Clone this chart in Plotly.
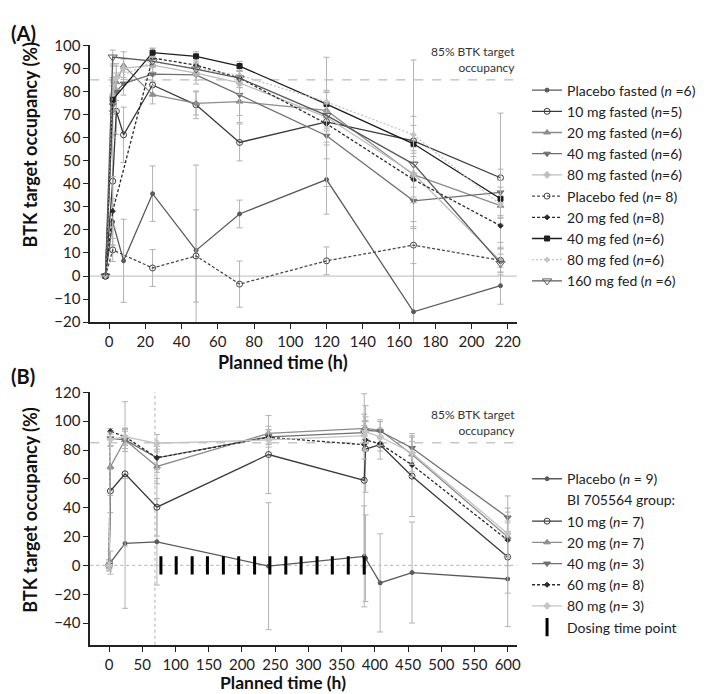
import plotly.graph_objects as go

# ---------------- Panel A data ----------------
tA = [-2, 2, 4, 8, 24, 48, 72, 120, 168, 216]
a_placebo_fasted = [0, 23.5, None, 6.6, 35.7, 11.1, 26.9, 41.8, -15.5, -4.2]
a_10_fasted = [0, 41.1, 71.4, 61.2, 82.8, 74.2, 57.9, 66.8, 58.6, 42.6]
a_20_fasted = [0, 72, 84, 91.2, 78.6, 74.8, 75.6, 71.8, 43.9, 30.5]
a_40_fasted = [0, 74, 80, 83.4, 87.5, 87.2, 78.5, 60.8, 32.6, 36.3]
a_80_fasted = [0, 78, 86, 90, 91.4, 87.9, 83.7, 68.9, 44.3, 6.5]
a_placebo_fed = [0, 11.3, None, None, 3.5, 8.7, -3.5, 6.6, 13.4, 6.8]
a_20_fed = [0, 28.1, None, None, 94.5, 91.4, 85.8, 66.0, 41.8, 21.8]
a_40_fed = [0, 76.4, None, None, 96.8, 95.2, 91.0, 74.5, 57.3, 33.5]
a_80_fed = [0, 85, None, None, 92.8, 90.0, 87.0, 75.5, 61.2, 31.0]
a_160_fed = [0, 94.9, None, None, 93.1, 89.7, 85.8, 69.6, 48.5, 5.5]

a_placebo_fasted_sd = [0, 10, 0, 18, 12, 37, 6, 15, 60, 8]
a_10_fasted_sd = [0, 20, 10, 12, 4, 6, 8, 28, 35, 28]
a_20_fasted_sd = [0, 12, 8, 6, 4, 5, 6, 8, 12, 8]
a_40_fasted_sd = [0, 12, 8, 5, 3, 4, 12, 10, 12, 10]
a_80_fasted_sd = [0, 8, 5, 4, 3, 3, 5, 6, 10, 6]
a_placebo_fed_sd = [0, 5, 0, 0, 8, 20, 10, 6, 8, 5]
a_20_fed_sd = [0, 15, 0, 0, 4, 3, 4, 8, 10, 10]
a_40_fed_sd = [0, 6, 0, 0, 2, 2, 2, 6, 8, 8]
a_80_fed_sd = [0, 6, 0, 0, 2, 2, 2, 4, 8, 6]
a_160_fed_sd = [0, 3, 0, 0, 2, 3, 3, 5, 10, 4]

a_names = ["Placebo fasted (<i>n</i> =6)", "10 mg fasted (<i>n</i>=5)", "20 mg fasted (<i>n</i>=6)",
           "40 mg fasted (<i>n</i>=6)", "80 mg fasted (<i>n</i>=6)", "Placebo fed (<i>n</i>= 8)",
           "20 mg fed (<i>n</i>=8)", "40 mg fed (<i>n</i>=6)", "80 mg fed (<i>n</i>=6)",
           "160 mg fed (<i>n</i> =6)"]
xticksA = [0, 20, 40, 60, 80, 100, 120, 140, 160, 180, 200, 220]
yticksA = [-20, -10, 0, 10, 20, 30, 40, 50, 60, 70, 80, 90, 100]

# ---------------- Panel B data ----------------
tB = [0, 2, 24, 72, 240, 384, 386, 408, 456, 600]
b_placebo = [0, 2, 15.3, 16.4, -0.5, 6.3, 5, -12.1, -4.9, -9.4]
b_10 = [0, 51.6, 63.5, 40.4, 76.9, 59.0, 80.7, 83.7, 61.9, 5.8]
b_20 = [0, 68.4, 87.0, 68.6, 91.5, 94.8, 95.0, 93.7, 76.9, 19.8]
b_40 = [0, 88.1, 87.0, 74.6, 89.2, 92.0, 93.7, 93.0, 81.4, 33.2]
b_60 = [0, 93.0, 89.2, 74.6, 88.8, 83.7, 87.0, 84.3, 69.7, 17.5]
b_80 = [0, 87.4, 89.2, 84.7, 87.0, 90.0, 92.6, 89.2, 78.0, 22.0]

b_placebo_sd = [4, 8, 45, 30, 44, 35, 30, 34, 35, 33]
b_10_sd = [3, 15, 50, 20, 27, 60, 30, 10, 28, 25]
b_20_sd = [2, 20, 8, 12, 5, 10, 8, 6, 12, 20]
b_40_sd = [2, 5, 6, 10, 5, 5, 6, 8, 10, 15]
b_60_sd = [2, 2, 5, 8, 5, 10, 8, 5, 8, 12]
b_80_sd = [2, 5, 6, 6, 5, 10, 8, 6, 8, 15]

dosing_t = [78, 101, 125, 148, 172, 195, 219, 242, 266, 289, 313, 336, 360, 384]
dosing_y = [0] * len(dosing_t)
first_dose_line = 69

b_names = ["Placebo (<i>n</i> = 9)", "10 mg (<i>n</i>= 7)", "20 mg (<i>n</i>= 7)",
           "40 mg (<i>n</i>= 3)", "60 mg (<i>n</i>= 8)", "80 mg (<i>n</i>= 3)"]
xticksB = [0, 50, 100, 150, 200, 250, 300, 350, 400, 450, 500, 550, 600]
yticksB = [-40, -20, 0, 20, 40, 60, 80, 100, 120]

# ---------------- layout helpers ----------------
W, H = 709, 694
def px(v):
    return v / W
def py(v):
    return 1 - v / H

FONT = "Lato, 'Open Sans', sans-serif"
ERRC = "#b3b3b3"

fig = go.Figure()

styles_A = [
    dict(color="#5a5a5a", dash="solid", symbol="circle", size=4),
    dict(color="#3a3a3a", dash="solid", symbol="circle-open", size=6),
    dict(color="#8c8c8c", dash="solid", symbol="triangle-up", size=6),
    dict(color="#707070", dash="solid", symbol="triangle-down", size=6),
    dict(color="#bdbdbd", dash="solid", symbol="cross", size=5),
    dict(color="#4a4a4a", dash="3px,2px", symbol="circle-open", size=6),
    dict(color="#2a2a2a", dash="3px,2px", symbol="diamond", size=4),
    dict(color="#1e1e1e", dash="solid", symbol="square", size=5),
    dict(color="#c4c4c4", dash="2px,2px", symbol="cross", size=4),
    dict(color="#5a5a5a", dash="solid", symbol="triangle-down-open", size=8),
]
seriesA = [a_placebo_fasted, a_10_fasted, a_20_fasted, a_40_fasted, a_80_fasted,
           a_placebo_fed, a_20_fed, a_40_fed, a_80_fed, a_160_fed]
sdA = [a_placebo_fasted_sd, a_10_fasted_sd, a_20_fasted_sd, a_40_fasted_sd, a_80_fasted_sd,
       a_placebo_fed_sd, a_20_fed_sd, a_40_fed_sd, a_80_fed_sd, a_160_fed_sd]

for name, ys, sd, st in zip(a_names, seriesA, sdA, styles_A):
    fig.add_trace(go.Scatter(
        x=tA, y=ys, name=name, mode="lines+markers", connectgaps=True,
        line=dict(color=st["color"], width=1.3, dash=st["dash"]),
        marker=dict(symbol=st["symbol"], size=st["size"], color=st["color"],
                    line=dict(color=st["color"], width=1)),
        error_y=dict(type="data", array=sd, color=ERRC, thickness=1, width=3),
        xaxis="x", yaxis="y", legend="legend"))

styles_B = [
    dict(color="#5a5a5a", dash="solid", symbol="circle", size=4),
    dict(color="#3a3a3a", dash="solid", symbol="circle-open", size=6),
    dict(color="#8c8c8c", dash="solid", symbol="triangle-up", size=6),
    dict(color="#707070", dash="solid", symbol="triangle-down", size=6),
    dict(color="#2a2a2a", dash="3px,2px", symbol="diamond", size=4),
    dict(color="#c4c4c4", dash="solid", symbol="cross", size=5),
]
seriesB = [b_placebo, b_10, b_20, b_40, b_60, b_80]
sdB = [b_placebo_sd, b_10_sd, b_20_sd, b_40_sd, b_60_sd, b_80_sd]

for i, (name, ys, sd, st) in enumerate(zip(b_names, seriesB, sdB, styles_B)):
    fig.add_trace(go.Scatter(
        x=tB, y=ys, name=name, mode="lines+markers",
        line=dict(color=st["color"], width=1.3, dash=st["dash"]),
        marker=dict(symbol=st["symbol"], size=st["size"], color=st["color"],
                    line=dict(color=st["color"], width=1)),
        error_y=dict(type="data", array=sd, color=ERRC, thickness=1, width=3),
        xaxis="x2", yaxis="y2", legend="legend2"))
    if i == 0:
        fig.add_trace(go.Scatter(
            x=[None], y=[None], name="BI 705564 group:", mode="markers",
            marker=dict(size=1, color="rgba(0,0,0,0)"),
            xaxis="x2", yaxis="y2", legend="legend2"))

fig.add_trace(go.Scatter(
    x=dosing_t, y=dosing_y, name="Dosing time point", mode="markers",
    marker=dict(symbol="line-ns", size=13, line=dict(color="black", width=3)),
    xaxis="x2", yaxis="y2", legend="legend2"))

# ---------------- axes ----------------
axis_common = dict(showline=True, linecolor="#222", linewidth=1.5, ticks="outside",
                   ticklen=5, tickwidth=1.3, tickcolor="#222", showgrid=False, zeroline=False,
                   tickfont=dict(family=FONT, size=15, color="#222"))

xA0, xA1 = 82.7, 511.7
fig.update_layout(
    xaxis=dict(domain=[px(xA0), px(xA1)], range=[-10.4, 225], tickvals=xticksA,
               anchor="y", **axis_common),
    yaxis=dict(domain=[py(312.3), py(28)], range=[-20, 100], tickvals=yticksA,
               anchor="x", **axis_common),
    xaxis2=dict(domain=[px(xA0), px(xA1)], range=[-28.4, 613.7], tickvals=xticksB,
                anchor="y2", **axis_common),
    yaxis2=dict(domain=[py(643.5), py(384.3)], range=[-55, 120], tickvals=yticksB,
                anchor="x2", **axis_common),
)

shapes = [
    dict(type="line", xref="x domain", yref="y", x0=0, x1=1, y0=0, y1=0,
         line=dict(color="#c8c8c8", width=1.2), layer="below"),
    dict(type="line", xref="x domain", yref="y", x0=0, x1=1, y0=85, y1=85,
         line=dict(color="#aaaaaa", width=1, dash="dash"), layer="below"),
    dict(type="line", xref="x2 domain", yref="y2", x0=0, x1=1, y0=0, y1=0,
         line=dict(color="#c0c0c0", width=1.2, dash="dot"), layer="below"),
    dict(type="line", xref="x2 domain", yref="y2", x0=0, x1=1, y0=85, y1=85,
         line=dict(color="#aaaaaa", width=1, dash="dash"), layer="below"),
    dict(type="line", xref="x2", yref="y2 domain", x0=first_dose_line, x1=first_dose_line,
         y0=0, y1=1, line=dict(color="#b0b0b0", width=1, dash="dot"), layer="below"),
]

ann = []
def add_text(text, x, y, size, bold=False, xanchor="center", yanchor="middle", angle=0, color="#111"):
    ann.append(dict(text=("<b>%s</b>" % text) if bold else text, x=px(x), y=py(y),
                    xref="paper", yref="paper", showarrow=False, xanchor=xanchor,
                    yanchor=yanchor, textangle=angle,
                    font=dict(family=FONT, size=size, color=color)))

add_text("(A)", 1, 15, 20, bold=True, xanchor="left")
add_text("(B)", 1, 368, 20, bold=True, xanchor="left")
add_text("BTK target occupancy (%)", 22, 130, 18, bold=True, angle=-90)
add_text("BTK target occupancy (%)", 22, 505, 18, bold=True, angle=-90)
add_text("Planned time (h)", 277, 353, 18, bold=True)
add_text("Planned time (h)", 277, 682, 17.5, bold=True)
ann.append(dict(text="85% BTK target<br>occupancy", x=1, y=85, xref="x domain", yref="y",
                xanchor="right", yanchor="bottom", showarrow=False, align="right",
                yshift=3, font=dict(family=FONT, size=12, color="#333")))
ann.append(dict(text="85% BTK target<br>occupancy", x=1, y=85, xref="x2 domain", yref="y2",
                xanchor="right", yanchor="bottom", showarrow=False, align="right",
                yshift=3, font=dict(family=FONT, size=12, color="#333")))

legend_common = dict(font=dict(family=FONT, size=14, color="#222"), bgcolor="rgba(0,0,0,0)",
                     itemwidth=30, tracegroupgap=0, xanchor="left", yanchor="top",
                     itemclick=False, itemdoubleclick=False)

fig.update_layout(
    width=W, height=H, autosize=False,
    margin=dict(l=0, r=0, t=0, b=0),
    paper_bgcolor="white", plot_bgcolor="white",
    shapes=shapes, annotations=ann,
    legend=dict(x=px(522), y=py(58), **legend_common),
    legend2=dict(x=px(522), y=py(457), **legend_common),
    showlegend=True,
)

fig.write_html("out.html")
